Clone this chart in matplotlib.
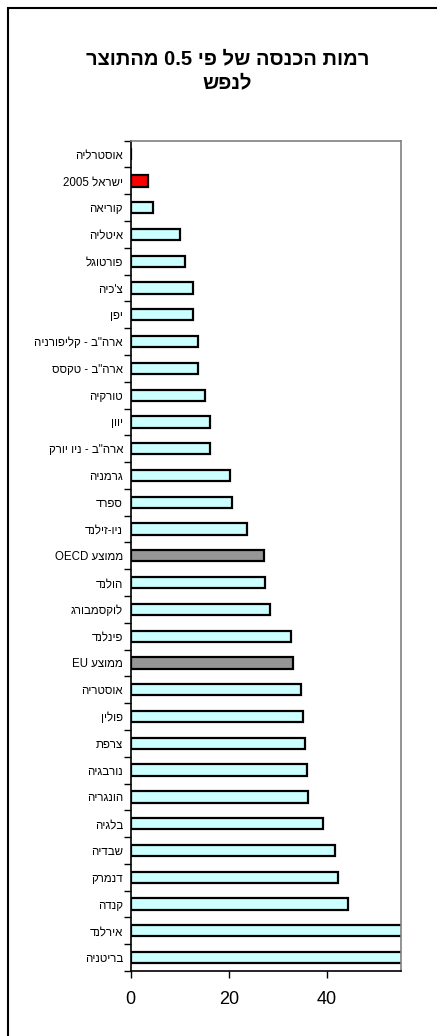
"""Hebrew horizontal bar chart: income levels at 0.5 of GDP per capita."""

import re

import matplotlib

matplotlib.use("Agg")
import matplotlib.pyplot as plt  # noqa: E402
from matplotlib.patches import Rectangle  # noqa: E402
from matplotlib.ticker import FixedLocator, NullFormatter  # noqa: E402

plt.rcParams["font.family"] = ["Liberation Sans", "DejaVu Sans"]

TITLE = "רמות הכנסה של פי 0.5 מהתוצר\nלנפש"

# top to bottom, as in the picture
COUNTRIES = [
    "אוסטרליה", "ישראל 2005", "קוריאה", "איטליה", "פורטוגל", "צ'כיה", "יפן",
    'ארה"ב - קליפורניה', 'ארה"ב - טקסס', "טורקיה", "יוון", 'ארה"ב - ניו יורק',
    "גרמניה", "ספרד", "ניו-זילנד", "ממוצע OECD", "הולנד", "לוקסמבורג",
    "פינלנד", "ממוצע EU", "אוסטריה", "פולין", "צרפת", "נורבגיה", "הונגריה",
    "בלגיה", "שבדיה", "דנמרק", "קנדה", "אירלנד", "בריטניה",
]
VALUES = [
    0.0, 3.6, 4.5, 10.1, 11.0, 12.6, 12.8,
    13.8, 13.7, 15.1, 16.1, 16.1,
    20.3, 20.6, 23.8, 27.1, 27.3, 28.3,
    32.6, 33.0, 34.8, 35.1, 35.5, 35.9, 36.1,
    39.3, 41.7, 42.3, 44.3, 60.0, 60.0,
]
HIGHLIGHT = {"ישראל 2005": "#ff0000", "ממוצע OECD": "#969696", "ממוצע EU": "#969696"}
BASE_COLOR = "#ccffff"
X_TICKS = [0, 20, 40]


def visual(s):
    """Crude bidi: reverse the line, then put LTR runs back in order."""
    r = s[::-1]
    return re.sub(r"[A-Za-z0-9][A-Za-z0-9.]*", lambda m: m.group(0)[::-1], r)


def main():
    fig = plt.figure(figsize=(4.37, 10.36), dpi=100)
    ax = fig.add_axes([130.7 / 437, 1 - 971 / 1036, 270.3 / 437, 830.3 / 1036])

    n = len(COUNTRIES)
    ypos = list(range(n))
    colors = [HIGHLIGHT.get(c, BASE_COLOR) for c in COUNTRIES]
    ax.barh(ypos, VALUES, height=0.42, color=colors, edgecolor="black", linewidth=1.6)

    ax.set_xlim(0, 55.1)
    ax.set_ylim(n - 0.5, -0.5)

    # category boundaries get the tick marks, centers get the labels
    ax.yaxis.set_major_locator(FixedLocator([i - 0.5 for i in range(n + 1)]))
    ax.yaxis.set_major_formatter(NullFormatter())
    ax.yaxis.set_minor_locator(FixedLocator(ypos))
    ax.set_yticklabels([visual(c) for c in COUNTRIES], minor=True, fontsize=8.3)
    ax.tick_params(axis="y", which="major", length=5, width=1, direction="out")
    ax.tick_params(axis="y", which="minor", length=0, pad=5.5)

    ax.set_xticks(X_TICKS)
    ax.tick_params(axis="x", length=5, width=1, direction="out", labelsize=13, pad=9.5)

    for side in ("top", "right"):
        ax.spines[side].set_color("#808080")
        ax.spines[side].set_linewidth(1.2)
    for side in ("left", "bottom"):
        ax.spines[side].set_linewidth(1.2)

    lines = TITLE.split("\n")
    for i, line in enumerate(lines):
        fig.text(0.52, 1 - (59 + 24 * i) / 1036, visual(line), ha="center", va="center",
                 fontsize=14.5, fontweight="bold")

    # outer chart frame, only left and top fall inside the image
    fig.patches.append(Rectangle((7.5 / 437, -0.2), 1.2, 1.2 - 7.5 / 1036, transform=fig.transFigure,
                                 fill=False, edgecolor="black", linewidth=1.5))

    fig.savefig("out.png", dpi=100)


if __name__ == "__main__":
    main()
